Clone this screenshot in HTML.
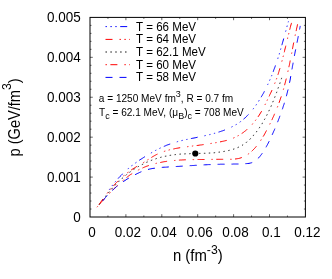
<!DOCTYPE html>
<html><head><meta charset="utf-8"><title>plot</title>
<style>
html,body{margin:0;padding:0;background:#fff;}
body{width:332px;height:279px;overflow:hidden;}
svg{display:block;will-change:transform;}
text{font-family:"Liberation Sans",sans-serif;fill:#000;}
</style></head><body>
<svg width="332" height="279" viewBox="0 0 332 279">
<rect width="332" height="279" fill="#fff"/>
<path d="M107.95,217.0 v-1.5 M107.95,17.4 v1.5 M125.90,217.0 v-2.8 M125.90,17.4 v2.8 M143.85,217.0 v-1.5 M143.85,17.4 v1.5 M161.80,217.0 v-2.8 M161.80,17.4 v2.8 M179.75,217.0 v-1.5 M179.75,17.4 v1.5 M197.70,217.0 v-2.8 M197.70,17.4 v2.8 M215.65,217.0 v-1.5 M215.65,17.4 v1.5 M233.60,217.0 v-2.8 M233.60,17.4 v2.8 M251.55,217.0 v-1.5 M251.55,17.4 v1.5 M269.50,217.0 v-2.8 M269.50,17.4 v2.8 M287.45,217.0 v-1.5 M287.45,17.4 v1.5 M90.0,209.02 h1.5 M305.4,209.02 h-1.5 M90.0,201.03 h1.5 M305.4,201.03 h-1.5 M90.0,193.05 h1.5 M305.4,193.05 h-1.5 M90.0,185.06 h1.5 M305.4,185.06 h-1.5 M90.0,177.08 h2.8 M305.4,177.08 h-2.8 M90.0,169.10 h1.5 M305.4,169.10 h-1.5 M90.0,161.11 h1.5 M305.4,161.11 h-1.5 M90.0,153.13 h1.5 M305.4,153.13 h-1.5 M90.0,145.14 h1.5 M305.4,145.14 h-1.5 M90.0,137.16 h2.8 M305.4,137.16 h-2.8 M90.0,129.18 h1.5 M305.4,129.18 h-1.5 M90.0,121.19 h1.5 M305.4,121.19 h-1.5 M90.0,113.21 h1.5 M305.4,113.21 h-1.5 M90.0,105.22 h1.5 M305.4,105.22 h-1.5 M90.0,97.24 h2.8 M305.4,97.24 h-2.8 M90.0,89.26 h1.5 M305.4,89.26 h-1.5 M90.0,81.27 h1.5 M305.4,81.27 h-1.5 M90.0,73.29 h1.5 M305.4,73.29 h-1.5 M90.0,65.30 h1.5 M305.4,65.30 h-1.5 M90.0,57.32 h2.8 M305.4,57.32 h-2.8 M90.0,49.34 h1.5 M305.4,49.34 h-1.5 M90.0,41.35 h1.5 M305.4,41.35 h-1.5 M90.0,33.37 h1.5 M305.4,33.37 h-1.5 M90.0,25.38 h1.5 M305.4,25.38 h-1.5" stroke="#000" stroke-width="0.6" fill="none"/>
<rect x="90.0" y="17.4" width="215.39999999999998" height="199.6" fill="none" stroke="#000" stroke-width="1"/>
<text transform="translate(80.70,222.05) scale(0.877,1)" font-size="15.39" text-anchor="end">0</text>
<text transform="translate(80.70,182.13) scale(0.877,1)" font-size="15.39" text-anchor="end">0.001</text>
<text transform="translate(80.70,142.21) scale(0.877,1)" font-size="15.39" text-anchor="end">0.002</text>
<text transform="translate(80.70,102.29) scale(0.877,1)" font-size="15.39" text-anchor="end">0.003</text>
<text transform="translate(80.70,62.37) scale(0.877,1)" font-size="15.39" text-anchor="end">0.004</text>
<text transform="translate(80.70,22.45) scale(0.877,1)" font-size="15.39" text-anchor="end">0.005</text>
<text transform="translate(91.90,237.20) scale(0.877,1)" font-size="15.39" text-anchor="middle">0</text>
<text transform="translate(127.80,237.20) scale(0.877,1)" font-size="15.39" text-anchor="middle">0.02</text>
<text transform="translate(163.70,237.20) scale(0.877,1)" font-size="15.39" text-anchor="middle">0.04</text>
<text transform="translate(199.60,237.20) scale(0.877,1)" font-size="15.39" text-anchor="middle">0.06</text>
<text transform="translate(235.50,237.20) scale(0.877,1)" font-size="15.39" text-anchor="middle">0.08</text>
<text transform="translate(271.40,237.20) scale(0.877,1)" font-size="15.39" text-anchor="middle">0.1</text>
<text transform="translate(307.30,237.20) scale(0.877,1)" font-size="15.39" text-anchor="middle">0.12</text>
<text transform="translate(197.80,260.50) scale(0.905,1)" font-size="16.46" text-anchor="middle">n (fm<tspan dy="-6.7" font-size="13.48">-3</tspan><tspan dy="6.7">)</tspan></text>
<text transform="translate(19.50,117.40) rotate(-90) scale(0.918,1)" font-size="15.90" text-anchor="middle">p (GeV/fm<tspan dy="-8.2" font-size="13.30">3</tspan><tspan dy="8.2">)</tspan></text>
<text transform="translate(98.80,102.00) scale(0.94,1)" font-size="10.74" text-anchor="start">a = 1250 MeV fm<tspan dy="-5.2" font-size="9.57">3</tspan><tspan dy="5.2">, R = 0.7 fm</tspan></text>
<text transform="translate(99.00,116.00) scale(0.94,1)" font-size="10.74" text-anchor="start">T<tspan dy="3.0" font-size="9.57">c</tspan><tspan dy="-3.0"> = 62.1 MeV, (μ</tspan><tspan dy="3.0" font-size="9.57">B</tspan><tspan dy="-3.0">)</tspan><tspan dy="3.0" font-size="9.57">c</tspan><tspan dy="-3.0"> = 708 MeV</tspan></text>
<path d="M109.2,189.8L109.3,189.6L109.5,189.4L109.6,189.3L109.7,189.1L109.8,188.9L110.0,188.7L110.0,188.7M112.0,186.0L112.0,185.9L112.2,185.8L112.3,185.6L112.4,185.4L112.6,185.2L112.7,185.1L112.8,184.9M115.0,182.2L115.1,182.1L115.2,182.0L115.3,181.8L115.5,181.6L115.6,181.5L115.8,181.3L115.8,181.2M118.1,178.6L118.7,177.9L119.4,177.1L120.2,176.3L121.0,175.5L121.8,174.7L122.5,173.9L122.8,173.7M127.8,169.0L127.9,168.9L128.1,168.8L128.3,168.6L128.4,168.5L128.6,168.3L128.8,168.2L128.8,168.1M131.5,166.0L131.5,165.9L131.7,165.8L131.8,165.7L132.0,165.5L132.2,165.4L132.3,165.3L132.5,165.1L132.5,165.1M135.3,163.1L135.3,163.0L135.5,162.9L135.7,162.8L135.8,162.7L136.0,162.5L136.2,162.4L136.4,162.3L136.4,162.3M139.2,160.3L140.0,159.8L140.9,159.2L141.8,158.7L142.7,158.1L143.6,157.5L144.5,156.9L145.0,156.6M150.9,153.1L151.0,153.0L151.2,152.9L151.4,152.8L151.5,152.7L151.7,152.6L151.9,152.5L152.1,152.4M155.1,150.7L155.2,150.6L155.4,150.5L155.6,150.4L155.8,150.3L156.0,150.2L156.2,150.1L156.3,150.1M159.4,148.5L159.4,148.5L159.6,148.4L159.8,148.3L160.0,148.2L160.2,148.1L160.4,148.0L160.6,147.9M163.8,146.5L164.7,146.1L165.7,145.7L166.7,145.2L167.8,144.8L168.8,144.5L169.8,144.1L170.2,144.0M176.8,141.9L176.8,141.9L177.0,141.8L177.2,141.7L177.4,141.7L177.6,141.6L177.9,141.6L178.1,141.5L178.1,141.5M181.4,140.7L181.5,140.6L181.7,140.6L181.9,140.5L182.1,140.5L182.3,140.4L182.6,140.4L182.8,140.3L182.8,140.3M186.2,139.6L186.2,139.6L186.4,139.5L186.6,139.5L186.9,139.4L187.1,139.4L187.3,139.4L187.5,139.3L187.5,139.3M190.9,138.6L191.8,138.4L192.9,138.2L194.0,138.0L195.1,137.8L196.1,137.6L197.2,137.3L197.7,137.2M204.4,135.8L204.6,135.8L204.8,135.7L205.0,135.7L205.2,135.6L205.4,135.6L205.7,135.5L205.8,135.5M209.2,134.7L209.3,134.7L209.5,134.6L209.7,134.6L209.9,134.5L210.2,134.5L210.4,134.4L210.5,134.4M213.9,133.5L214.0,133.5L214.2,133.4L214.4,133.4L214.6,133.3L214.9,133.2L215.1,133.2L215.2,133.1M218.5,132.1L219.5,131.8L220.5,131.5L221.6,131.1L222.6,130.8L223.7,130.4L224.7,130.0L225.0,129.9M231.4,127.1L231.4,127.1L231.6,127.0L231.8,126.9L232.0,126.8L232.2,126.7L232.4,126.6L232.6,126.5L232.6,126.5M235.7,124.8L235.7,124.8L235.9,124.7L236.1,124.6L236.3,124.5L236.4,124.4L236.6,124.3L236.8,124.1L236.8,124.1M239.7,122.2L239.8,122.2L239.9,122.1L240.1,121.9L240.3,121.8L240.5,121.7L240.7,121.5L240.8,121.4L240.8,121.4M243.5,119.2L244.2,118.6L245.1,117.9L245.9,117.1L246.7,116.3L247.4,115.5L248.2,114.7L248.5,114.4M253.0,109.2L253.0,109.2L253.1,109.0L253.2,108.8L253.4,108.6L253.5,108.5L253.7,108.3L253.8,108.1L253.8,108.1M255.9,105.3L255.9,105.3L256.0,105.1L256.1,104.9L256.3,104.7L256.4,104.5L256.5,104.4L256.7,104.2M258.6,101.3L258.6,101.2L258.7,101.0L258.9,100.9L259.0,100.7L259.1,100.5L259.2,100.3L259.3,100.1M261.1,97.2L261.6,96.3L262.2,95.4L262.7,94.4L263.3,93.5L263.8,92.5L264.3,91.5L264.5,91.2M267.5,85.0L267.5,85.0L267.6,84.8L267.7,84.6L267.8,84.4L267.9,84.2L268.0,84.0L268.1,83.8L268.1,83.8M269.5,80.7L269.6,80.6L269.6,80.4L269.7,80.2L269.8,80.0L269.9,79.8L270.0,79.6L270.1,79.4M271.4,76.2L271.4,76.1L271.5,75.9L271.6,75.7L271.7,75.5L271.8,75.3L271.9,75.1L271.9,75.0M273.2,71.8L273.5,70.8L273.9,69.7L274.3,68.7L274.7,67.7L275.1,66.6L275.4,65.6L275.5,65.4M277.7,58.9L277.8,58.7L277.8,58.5L277.9,58.3L278.0,58.1L278.0,57.8L278.1,57.6L278.1,57.6M279.1,54.3L279.2,54.3L279.2,54.0L279.3,53.8L279.4,53.6L279.4,53.4L279.5,53.2L279.5,53.0M280.5,49.8L280.6,49.6L280.6,49.4L280.7,49.2L280.8,49.0L280.8,48.8L280.9,48.5L280.9,48.5M281.8,45.2L282.1,44.3L282.4,43.2L282.7,42.2L283.0,41.1L283.3,40.0L283.6,39.0L283.7,38.5M285.6,31.7L285.6,31.5L285.7,31.3L285.7,31.1L285.8,30.9L285.9,30.7L285.9,30.4L285.9,30.4M286.9,27.0L286.9,26.8L287.0,26.6L287.0,26.4L287.1,26.2L287.2,26.0L287.2,25.8L287.3,25.6M288.2,22.3L288.3,22.1L288.3,21.9L288.4,21.7L288.4,21.5L288.5,21.3" fill="none" stroke="#0000ff" stroke-width="1.0"/>
<path d="M98.9,204.9L99.6,203.9L100.2,202.9L100.9,201.9L101.6,200.9L102.3,199.9L102.9,199.1M107.1,193.4L107.2,193.3L107.3,193.1L107.5,192.9L107.6,192.7L107.8,192.5L107.9,192.3L108.0,192.3M110.2,189.6L110.3,189.5L110.4,189.3L110.6,189.1L110.7,189.0L110.9,188.8L111.0,188.6L111.1,188.5M113.4,185.9L114.1,185.1L114.9,184.2L115.8,183.3L116.6,182.5L117.5,181.6L118.3,180.8M123.4,176.0L123.5,176.0L123.7,175.8L123.9,175.7L124.1,175.5L124.3,175.3L124.4,175.2L124.5,175.1M127.2,172.9L127.3,172.9L127.5,172.8L127.6,172.6L127.8,172.5L128.0,172.3L128.2,172.2L128.4,172.1M131.2,170.0L132.1,169.4L133.1,168.7L134.2,168.1L135.2,167.5L136.2,166.8L137.1,166.3M143.1,162.7L143.2,162.6L143.5,162.5L143.7,162.3L143.9,162.2L144.1,162.1L144.3,162.0L144.3,162.0M147.3,160.1L147.4,160.1L147.6,159.9L147.8,159.8L148.0,159.7L148.2,159.5L148.4,159.4L148.5,159.4M151.4,157.5L152.3,156.9L153.4,156.3L154.4,155.7L155.5,155.1L156.6,154.5L157.5,154.1M163.9,151.5L164.1,151.4L164.3,151.3L164.6,151.3L164.8,151.2L165.0,151.1L165.2,151.1L165.3,151.0M168.6,150.1L168.7,150.1L168.9,150.0L169.2,149.9L169.4,149.9L169.6,149.8L169.9,149.8L169.9,149.7M173.3,149.0L174.3,148.8L175.5,148.5L176.7,148.3L177.9,148.1L179.0,147.9L180.2,147.7M187.0,146.7L187.2,146.7L187.5,146.7L187.7,146.6L187.9,146.6L188.2,146.6L188.4,146.5L188.4,146.5M191.9,146.1L192.1,146.1L192.3,146.1L192.5,146.0L192.8,146.0L193.0,146.0L193.2,145.9M196.7,145.5L197.9,145.4L199.1,145.2L200.3,145.0L201.5,144.9L202.7,144.7L203.6,144.6M210.4,143.6L210.4,143.6L210.7,143.5L210.9,143.5L211.2,143.4L211.4,143.4L211.6,143.4L211.8,143.3M215.2,142.8L215.2,142.8L215.5,142.7L215.7,142.7L215.9,142.6L216.2,142.6L216.4,142.6L216.6,142.5M220.0,141.9L221.1,141.7L222.3,141.4L223.4,141.2L224.6,140.9L225.8,140.6L226.7,140.4M233.2,138.1L233.2,138.1L233.5,138.0L233.7,137.9L233.9,137.8L234.1,137.7L234.3,137.6L234.5,137.6M237.6,136.0L237.6,136.0L237.8,135.9L238.1,135.8L238.3,135.6L238.5,135.5L238.7,135.4L238.8,135.3M241.7,133.5L242.7,132.9L243.7,132.2L244.6,131.4L245.6,130.7L246.6,129.9L247.2,129.3M252.1,124.5L252.2,124.4L252.4,124.2L252.5,124.1L252.7,123.9L252.8,123.7L253.0,123.5L253.0,123.5M255.2,120.8L255.3,120.7L255.4,120.5L255.6,120.3L255.7,120.1L255.9,119.9L256.0,119.7L256.0,119.7M258.0,116.9L258.6,116.0L259.3,115.0L259.9,114.0L260.5,113.0L261.2,111.9L261.7,111.1M264.9,105.0L265.0,104.8L265.1,104.6L265.2,104.4L265.3,104.2L265.4,104.0L265.5,103.8M267.0,100.7L267.1,100.5L267.2,100.3L267.3,100.1L267.4,99.8L267.5,99.6L267.6,99.5M269.1,96.4L269.5,95.5L270.0,94.3L270.6,93.2L271.1,92.1L271.6,91.0L272.0,90.1M274.6,83.8L274.6,83.8L274.7,83.5L274.8,83.3L274.9,83.1L275.0,82.9L275.1,82.6L275.1,82.5M276.3,79.3L276.4,79.2L276.4,79.0L276.5,78.8L276.6,78.5L276.7,78.3L276.8,78.1L276.8,78.0M277.9,74.8L278.3,73.7L278.6,72.6L279.0,71.4L279.3,70.2L279.7,69.1L280.0,68.2M281.8,61.6L281.9,61.4L281.9,61.2L282.0,61.0L282.1,60.7L282.1,60.5L282.2,60.3M283.1,57.0L283.1,56.8L283.2,56.5L283.2,56.3L283.3,56.1L283.4,55.8L283.4,55.7M284.2,52.3L284.5,51.4L284.7,50.2L285.0,49.0L285.3,47.9L285.6,46.7L285.8,45.7M287.4,39.0L287.5,38.9L287.5,38.7L287.6,38.4L287.6,38.2L287.7,38.0L287.7,37.7L287.8,37.7M288.6,34.4L288.6,34.2L288.7,34.0L288.7,33.7L288.8,33.5L288.8,33.3L288.9,33.0L288.9,33.0M289.7,29.7L290.0,28.6L290.3,27.4L290.6,26.2L290.9,25.0L291.3,23.8L291.5,22.9" fill="none" stroke="#ff0000" stroke-width="1.0"/>
<path d="M99.4,204.4L99.5,204.2L99.6,204.1L99.8,203.9L99.9,203.7L100.0,203.6L100.1,203.4L100.2,203.3M102.3,200.5L102.4,200.3L102.6,200.2L102.7,200.0L102.8,199.9L102.9,199.7L103.0,199.5L103.2,199.4L103.2,199.4M105.3,196.6L105.4,196.5L105.5,196.3L105.7,196.2L105.8,196.0L105.9,195.9L106.0,195.7L106.2,195.5L106.2,195.5M108.4,192.8L108.5,192.7L108.6,192.6L108.7,192.4L108.9,192.3L109.0,192.1L109.1,191.9L109.2,191.8L109.3,191.7M111.6,189.1L111.6,189.0L111.7,188.9L111.9,188.7L112.0,188.6L112.2,188.4L112.3,188.3L112.4,188.1L112.5,188.0M114.9,185.4L115.0,185.3L115.2,185.2L115.3,185.0L115.4,184.9L115.6,184.7L115.7,184.6L115.9,184.4L115.9,184.4M118.3,182.0L118.4,181.9L118.6,181.7L118.7,181.6L118.8,181.5L119.0,181.3L119.1,181.2L119.3,181.0L119.3,181.0M121.9,178.6L121.9,178.6L122.1,178.4L122.2,178.3L122.4,178.2L122.5,178.0L122.7,177.9L122.8,177.8L123.0,177.7M125.6,175.4L125.6,175.4L125.8,175.3L125.9,175.2L126.1,175.0L126.3,174.9L126.4,174.8L126.6,174.6L126.7,174.5M129.5,172.4L129.6,172.3L129.8,172.2L130.0,172.1L130.1,171.9L130.3,171.8L130.5,171.7L130.6,171.6M133.5,169.6L133.7,169.5L133.8,169.4L134.0,169.3L134.2,169.2L134.3,169.1L134.5,169.0L134.7,168.8L134.7,168.8M137.7,167.0L137.8,166.9L138.0,166.8L138.2,166.7L138.3,166.6L138.5,166.5L138.7,166.4L138.9,166.3L138.9,166.3M141.9,164.6L142.1,164.5L142.3,164.5L142.4,164.4L142.6,164.3L142.8,164.2L143.0,164.1L143.2,164.0L143.2,164.0M146.3,162.5L146.4,162.4L146.6,162.3L146.8,162.2L147.0,162.2L147.2,162.1L147.4,162.0L147.6,161.9L147.6,161.9M150.9,160.5L150.9,160.5L151.1,160.4L151.3,160.4L151.5,160.3L151.7,160.2L151.9,160.2L152.0,160.1L152.2,160.0M155.5,158.9L155.7,158.8L155.8,158.8L156.0,158.7L156.2,158.6L156.4,158.6L156.6,158.5L156.8,158.5M160.2,157.5L160.3,157.5L160.5,157.4L160.7,157.4L160.9,157.3L161.0,157.3L161.2,157.2L161.4,157.2L161.5,157.1M164.9,156.3L165.0,156.3L165.1,156.3L165.3,156.3L165.5,156.2L165.7,156.2L165.9,156.1L166.1,156.1L166.3,156.1M169.7,155.4L169.9,155.4L170.1,155.4L170.3,155.3L170.5,155.3L170.7,155.3L170.9,155.2L171.1,155.2L171.1,155.2M174.6,154.7L174.7,154.7L174.9,154.7L175.1,154.7L175.3,154.6L175.5,154.6L175.7,154.6L175.9,154.6L176.0,154.6M179.5,154.2L179.5,154.2L179.7,154.2L179.9,154.2L180.1,154.2L180.3,154.1L180.5,154.1L180.7,154.1L180.9,154.1M184.3,153.9L184.5,153.9L184.7,153.9L184.9,153.8L185.1,153.8L185.3,153.8L185.5,153.8L185.7,153.8M189.2,153.7L189.4,153.7L189.6,153.7L189.8,153.7L190.0,153.6L190.2,153.6L190.4,153.6L190.6,153.6L190.6,153.6M194.1,153.5L194.3,153.5L194.5,153.5L194.7,153.5L194.9,153.5L195.1,153.5L195.3,153.5L195.5,153.5L195.5,153.5M199.0,153.4L199.2,153.4L199.4,153.4L199.6,153.4L199.8,153.4L200.0,153.4L200.2,153.4L200.4,153.4L200.4,153.4M203.9,153.3L204.1,153.3L204.3,153.3L204.5,153.3L204.7,153.3L204.9,153.3L205.1,153.3L205.3,153.3L205.3,153.3M208.8,153.1L209.0,153.1L209.2,153.1L209.4,153.1L209.6,153.0L209.8,153.0L210.0,153.0L210.2,153.0L210.2,153.0M213.7,152.8L213.9,152.7L214.1,152.7L214.3,152.7L214.5,152.7L214.7,152.7L214.9,152.7L215.1,152.6L215.1,152.6M218.6,152.2L218.7,152.2L218.9,152.2L219.1,152.2L219.3,152.2L219.5,152.1L219.7,152.1L219.9,152.1L220.0,152.1M223.4,151.5L223.5,151.5L223.7,151.5L223.9,151.4L224.1,151.4L224.3,151.4L224.5,151.3L224.7,151.3L224.8,151.3M228.2,150.6L228.3,150.6L228.5,150.5L228.7,150.5L228.9,150.4L229.1,150.4L229.3,150.3L229.5,150.3L229.6,150.2M233.0,149.3L233.1,149.3L233.3,149.2L233.5,149.2L233.7,149.1L233.9,149.0L234.1,149.0L234.3,148.9L234.3,148.9M237.6,147.6L237.6,147.6L237.8,147.6L238.0,147.5L238.2,147.4L238.3,147.3L238.5,147.2L238.7,147.2L238.9,147.1M242.0,145.4L242.0,145.4L242.2,145.3L242.4,145.2L242.5,145.1L242.7,145.0L242.9,144.9L243.0,144.8L243.1,144.7M246.0,142.7L246.1,142.6L246.3,142.4L246.4,142.3L246.6,142.2L246.7,142.1L246.9,141.9L247.0,141.8L247.1,141.8M249.7,139.4L249.8,139.4L249.9,139.2L250.0,139.1L250.2,138.9L250.3,138.8L250.5,138.7L250.6,138.5L250.7,138.5M253.1,135.9L253.1,135.8L253.3,135.7L253.4,135.5L253.5,135.4L253.7,135.2L253.8,135.1L253.9,134.9L254.0,134.9M256.2,132.1L256.3,132.1L256.4,131.9L256.5,131.7L256.6,131.6L256.8,131.4L256.9,131.2L257.0,131.1L257.1,131.0M259.1,128.2L259.2,128.1L259.3,127.9L259.4,127.8L259.5,127.6L259.6,127.4L259.7,127.2L259.9,127.1L259.9,127.0M261.8,124.1L261.8,124.0L262.0,123.8L262.1,123.7L262.2,123.5L262.3,123.3L262.4,123.1L262.5,123.0L262.5,122.9M264.3,119.9L264.3,119.8L264.4,119.6L264.5,119.5L264.6,119.3L264.7,119.1L264.8,118.9L264.9,118.8L265.0,118.7M266.6,115.6L266.6,115.5L266.7,115.4L266.8,115.2L266.9,115.0L267.0,114.8L267.1,114.6L267.2,114.5L267.3,114.3M268.8,111.2L268.9,111.0L269.0,110.8L269.1,110.7L269.1,110.5L269.2,110.3L269.3,110.1L269.4,109.9L269.4,109.9M270.8,106.7L270.9,106.6L271.0,106.4L271.1,106.2L271.1,106.1L271.2,105.9L271.3,105.7L271.4,105.5L271.4,105.4M272.8,102.2L272.8,102.2L272.9,102.0L272.9,101.8L273.0,101.6L273.1,101.4L273.2,101.2L273.2,101.0L273.3,100.9M274.6,97.7L274.6,97.7L274.7,97.5L274.7,97.3L274.8,97.1L274.9,96.9L275.0,96.7L275.0,96.5L275.1,96.4M276.3,93.1L276.4,92.9L276.5,92.7L276.5,92.6L276.6,92.4L276.7,92.2L276.7,92.0L276.8,91.8L276.8,91.8M278.0,88.5L278.0,88.4L278.1,88.2L278.2,88.0L278.3,87.8L278.3,87.6L278.4,87.4L278.5,87.2L278.5,87.2M279.6,83.9L279.7,83.8L279.7,83.6L279.8,83.4L279.9,83.2L279.9,83.0L280.0,82.8L280.1,82.6L280.1,82.5M281.3,79.2L281.3,79.2L281.4,79.0L281.4,78.8L281.5,78.6L281.6,78.4L281.6,78.2L281.7,78.0L281.7,77.9" fill="none" stroke="#000000" stroke-width="1.0"/>
<path d="M97.0,207.2L97.2,207.0L97.3,206.8L97.5,206.6L97.7,206.4L97.9,206.2L97.9,206.2M100.1,203.5L100.6,202.9L101.3,202.2L102.0,201.4L102.7,200.6L103.4,199.8L104.1,199.1L104.7,198.4M109.4,193.5L109.5,193.3L109.7,193.2L109.9,193.0L110.0,192.8L110.2,192.6L110.4,192.5M112.8,190.1L113.5,189.4L114.2,188.6L115.0,187.9L115.7,187.2L116.4,186.5L117.2,185.8L117.7,185.3M122.8,180.6L123.0,180.5L123.2,180.3L123.4,180.1L123.6,180.0L123.8,179.8L123.9,179.7M126.5,177.6L127.3,177.0L128.1,176.4L128.9,175.7L129.8,175.1L130.6,174.5L131.5,174.0L132.2,173.5M138.1,170.1L138.2,170.0L138.4,169.9L138.7,169.8L138.9,169.7L139.1,169.5L139.4,169.4M142.5,168.0L143.4,167.6L144.3,167.2L145.3,166.8L146.2,166.4L147.2,166.1L148.2,165.7L148.9,165.5M155.6,163.5L155.6,163.5L155.9,163.5L156.1,163.4L156.4,163.3L156.6,163.3L156.9,163.2L156.9,163.2M160.3,162.5L161.2,162.3L162.2,162.1L163.2,161.9L164.2,161.7L165.3,161.6L166.3,161.4L167.1,161.3M174.0,160.5L174.2,160.5L174.5,160.5L174.8,160.4L175.0,160.4L175.3,160.4L175.4,160.4M178.9,160.1L179.7,160.1L180.7,160.0L181.7,160.0L182.8,159.9L183.8,159.9L184.8,159.8L185.8,159.8M192.7,159.6L192.9,159.6L193.1,159.6L193.4,159.6L193.7,159.6L193.9,159.6L194.1,159.6M197.6,159.5L198.6,159.5L199.6,159.5L200.7,159.5L201.7,159.5L202.8,159.5L203.8,159.5L204.5,159.5M211.4,159.4L211.6,159.4L211.9,159.4L212.2,159.4L212.4,159.4L212.7,159.4L212.8,159.4M216.3,159.3L217.1,159.3L218.2,159.3L219.2,159.3L220.3,159.3L221.3,159.3L222.4,159.3L223.2,159.3M230.2,159.3L230.2,159.3L230.5,159.3L230.7,159.3L231.0,159.3L231.3,159.3L231.5,159.3L231.6,159.3M235.0,159.0L236.1,158.9L237.3,158.7L238.6,158.5L239.8,158.2L241.0,157.8L241.8,157.5M247.9,154.3L247.9,154.3L248.2,154.1L248.4,154.0L248.6,153.8L248.8,153.7L249.0,153.5L249.0,153.5M251.7,151.3L252.4,150.6L253.1,149.9L253.9,149.1L254.6,148.4L255.3,147.6L256.0,146.8L256.4,146.2M260.6,140.7L260.7,140.5L260.8,140.3L261.0,140.1L261.1,139.9L261.2,139.6L261.3,139.5M263.1,136.6L263.6,135.9L264.1,135.0L264.6,134.1L265.1,133.2L265.6,132.2L266.1,131.3L266.5,130.5M269.7,124.4L269.8,124.2L269.9,123.9L270.0,123.7L270.2,123.5L270.3,123.2L270.3,123.2M271.8,120.1L272.2,119.3L272.6,118.3L273.0,117.4L273.5,116.4L273.9,115.5L274.3,114.5L274.6,113.8M277.3,107.4L277.3,107.4L277.4,107.1L277.5,106.9L277.6,106.6L277.7,106.4L277.8,106.1L277.8,106.1M279.0,102.9L279.3,102.0L279.7,101.0L280.0,100.1L280.3,99.1L280.7,98.1L281.0,97.1L281.3,96.4M283.3,89.8L283.3,89.7L283.4,89.5L283.5,89.2L283.5,89.0L283.6,88.7L283.7,88.5M284.6,85.2L284.8,84.2L285.1,83.2L285.4,82.2L285.6,81.2L285.9,80.2L286.1,79.2L286.3,78.6M287.8,71.9L287.9,71.6L287.9,71.4L288.0,71.1L288.1,70.9L288.1,70.6L288.1,70.5M288.9,67.2L289.0,66.3L289.3,65.3L289.5,64.3L289.7,63.3L289.9,62.3L290.1,61.2L290.2,60.5M291.6,53.8L291.6,53.6L291.7,53.3L291.7,53.1L291.8,52.8L291.8,52.6L291.8,52.5M292.5,49.1L292.6,48.2L292.8,47.2L293.0,46.2L293.2,45.2L293.4,44.1L293.6,43.1L293.8,42.5M295.1,35.8L295.1,35.7L295.2,35.5L295.2,35.2L295.3,35.0L295.3,34.7L295.4,34.5L295.4,34.5M296.1,31.1L296.3,30.2L296.5,29.2L296.7,28.1L297.0,27.1L297.2,26.1L297.4,25.1L297.6,24.3" fill="none" stroke="#ff0000" stroke-width="1.0"/>
<path d="M102.8,200.9L103.4,200.1L104.1,199.3L104.7,198.4L105.4,197.6L106.1,196.9L106.8,196.1L107.3,195.5M112.2,190.5L112.9,189.9L113.6,189.2L114.4,188.5L115.2,187.8L116.0,187.2L116.7,186.5L117.4,186.0M123.1,181.8L123.9,181.2L125.0,180.5L126.1,179.8L127.1,179.1L128.2,178.5L128.9,178.0M135.1,174.7L136.0,174.2L136.9,173.8L137.8,173.3L138.8,172.9L139.7,172.4L140.7,172.0L141.4,171.7M148.0,169.5L149.0,169.2L149.9,169.0L150.9,168.8L151.9,168.6L152.9,168.4L154.0,168.3L154.9,168.2M161.8,167.4L162.8,167.3L164.1,167.2L165.4,167.2L166.7,167.1L168.0,167.0L168.8,166.9M175.8,166.5L176.7,166.5L177.8,166.4L178.8,166.4L179.8,166.3L180.9,166.2L181.9,166.2L182.7,166.1M189.7,165.7L190.6,165.6L191.6,165.6L192.7,165.5L193.7,165.5L194.7,165.4L195.7,165.3L196.7,165.3M203.6,164.9L204.7,164.8L206.0,164.8L207.3,164.7L208.6,164.6L209.8,164.6L210.6,164.6M217.6,164.3L218.6,164.3L219.6,164.3L220.6,164.2L221.7,164.2L222.7,164.2L223.7,164.2L224.6,164.2M231.5,164.1L232.5,164.1L233.6,164.0L234.6,164.0L235.6,164.0L236.7,164.0L237.7,164.0L238.5,164.0M245.4,163.7L246.6,163.6L247.8,163.5L249.0,163.4L250.2,163.1L251.4,162.8L252.2,162.5M257.9,158.5L258.6,157.9L259.3,157.1L260.0,156.3L260.6,155.5L261.3,154.6L261.9,153.8L262.3,153.2M266.0,147.3L266.4,146.5L266.9,145.6L267.4,144.7L267.9,143.8L268.3,142.9L268.8,142.0L269.2,141.2M272.1,134.9L272.5,134.1L272.9,133.2L273.3,132.3L273.7,131.3L274.2,130.4L274.6,129.4L274.9,128.6M277.5,122.2L277.9,121.3L278.3,120.4L278.6,119.4L279.0,118.5L279.4,117.5L279.7,116.5L280.0,115.8M282.3,109.3L282.6,108.5L282.9,107.5L283.2,106.6L283.5,105.6L283.9,104.6L284.2,103.6L284.4,102.8M286.4,96.2L286.6,95.2L286.9,94.2L287.1,93.2L287.4,92.2L287.6,91.2L287.9,90.2L288.1,89.5M289.5,82.8L289.7,82.0L289.9,81.0L290.1,80.0L290.3,79.0L290.4,78.0L290.6,77.0L290.8,76.1M291.9,69.4L292.1,68.6L292.3,67.6L292.4,66.6L292.6,65.6L292.8,64.6L293.0,63.6L293.1,62.7M294.4,56.0L294.5,55.2L294.7,54.2L294.9,53.2L295.1,52.1L295.3,51.1L295.5,50.1L295.7,49.4M297.0,42.7L297.2,41.8L297.4,40.8L297.6,39.7L297.8,38.7L298.0,37.7L298.2,36.7L298.3,36.1M299.5,29.5L299.6,29.2L299.7,28.7L299.8,28.2L299.9,27.7L300.0,27.2L300.1,26.7L300.2,26.2L300.2,25.9" fill="none" stroke="#0000ff" stroke-width="1.0"/>
<path d="M105.5,26.6 H130" fill="none" stroke="#0000ff" stroke-width="1.0" stroke-dasharray="1.40,3.50,1.40,3.50,1.40,3.50,7.00,7.00"/>
<text transform="translate(136.10,30.65) scale(0.895,1)" font-size="12.96" text-anchor="start">T = 66 MeV</text>
<path d="M105.5,39.4 H130" fill="none" stroke="#ff0000" stroke-width="1.0" stroke-dasharray="7.00,7.00,1.40,3.50,1.40,3.50"/>
<text transform="translate(136.10,43.45) scale(0.895,1)" font-size="12.96" text-anchor="start">T = 64 MeV</text>
<path d="M105.5,52.0 H130" fill="none" stroke="#000000" stroke-width="1.0" stroke-dasharray="1.40,3.50"/>
<text transform="translate(136.10,56.05) scale(0.895,1)" font-size="12.96" text-anchor="start">T = 62.1 MeV</text>
<path d="M105.5,64.7 H130" fill="none" stroke="#ff0000" stroke-width="1.0" stroke-dasharray="1.40,3.50,7.00,7.00"/>
<text transform="translate(136.10,68.75) scale(0.895,1)" font-size="12.96" text-anchor="start">T = 60 MeV</text>
<path d="M105.5,77.4 H130" fill="none" stroke="#0000ff" stroke-width="1.0" stroke-dasharray="7.00,7.00"/>
<text transform="translate(136.10,81.45) scale(0.895,1)" font-size="12.96" text-anchor="start">T = 58 MeV</text>
<circle cx="195.3" cy="153.5" r="3.1" fill="#000"/>
</svg></body></html>
